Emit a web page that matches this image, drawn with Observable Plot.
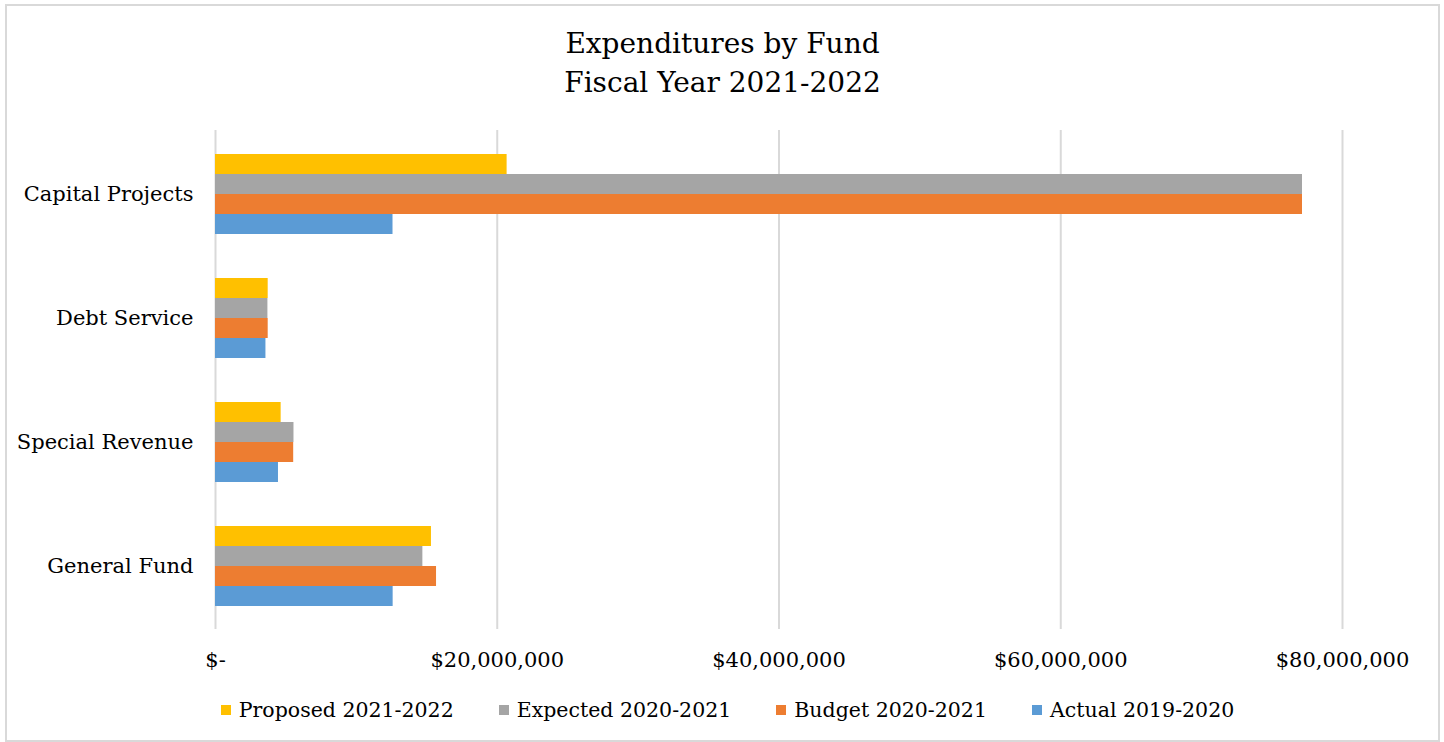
<!DOCTYPE html>
<html>
<head>
<meta charset="utf-8">
<script src="https://cdn.jsdelivr.net/npm/d3@7"></script>
<script src="https://cdn.jsdelivr.net/npm/@observablehq/plot@0.6"></script>
<style>
  html, body { margin: 0; padding: 0; background: #fff; }
  #frame { position: absolute; left: 5px; top: 4px; width: 1431px; height: 734px; border: 2px solid #d9d9d9; background: #fff; overflow: hidden; font-family: "DejaVu Serif", serif; color: #000; }
  #title { position: absolute; left: 0; top: 18px; width: 100%; text-align: center; font-size: 28px; line-height: 39px; }
  #chart { position: absolute; left: 0; top: 0; }
  #legend { position: absolute; left: 0; top: 689px; width: 100%; display: flex; justify-content: center; gap: 45px; font-size: 20.5px; line-height: 30px; padding-left: 10px; box-sizing: border-box; }
  .item { display: flex; align-items: center; gap: 8px; }
  .sw { width: 10px; height: 10px; display: inline-block; }
</style>
</head>
<body>
<div id="frame">
  <div id="title">Expenditures by Fund<br>Fiscal Year 2021-2022</div>
  <div id="chart"></div>
  <div id="legend"></div>
</div>
<script>
const categories = ["Capital Projects", "Debt Service", "Special Revenue", "General Fund"];
const seriesNames = ["Proposed 2021-2022", "Expected 2020-2021", "Budget 2020-2021", "Actual 2019-2020"];
const proposed = [20700000, 3740000, 4660000, 15330000];
const expected = [77160000, 3720000, 5570000, 14720000];
const budget   = [77160000, 3740000, 5550000, 15690000];
const actual   = [12600000, 3580000, 4470000, 12610000];
const xTicks = [0, 20000000, 40000000, 60000000, 80000000];
const xTickLabels = ["$-", "$20,000,000", "$40,000,000", "$60,000,000", "$80,000,000"];
const colors = ["#FFC000", "#A5A5A5", "#ED7D31", "#5B9BD5"];

const seriesValues = [proposed, expected, budget, actual];
const rows = seriesValues.map((vals, s) =>
  categories.map((c, i) => ({category: c, series: seriesNames[s], value: vals[i]}))
);

const bandwidth = 80;
const slot = bandwidth / seriesNames.length;

const plot = Plot.plot({
  width: 1431,
  height: 680,
  marginLeft: 208,
  marginRight: 96,
  marginTop: 124,
  marginBottom: 57,
  style: {fontFamily: "DejaVu Serif, serif", fontSize: "21px", color: "#000", background: "transparent"},
  x: {domain: [0, 80000000], ticks: xTicks, tickFormat: d => xTickLabels[xTicks.indexOf(d)], tickSize: 0, tickPadding: 23, label: null},
  y: {type: "band", domain: categories, paddingInner: 0.3587, paddingOuter: 0.1794, tickSize: 0, tickPadding: 22, label: null},
  marks: [
    Plot.ruleX(xTicks, {stroke: "#d9d9d9", strokeWidth: 2}),
    ...rows.map((data, s) => Plot.barX(data, {
      x: "value", y: "category", fill: colors[s],
      insetTop: s * slot, insetBottom: (seriesNames.length - 1 - s) * slot
    }))
  ]
});
document.getElementById("chart").appendChild(plot);

const legend = document.getElementById("legend");
seriesNames.forEach((name, s) => {
  const item = document.createElement("div");
  item.className = "item";
  const sw = document.createElement("span");
  sw.className = "sw";
  sw.style.background = colors[s];
  const label = document.createElement("span");
  label.textContent = name;
  item.appendChild(sw);
  item.appendChild(label);
  legend.appendChild(item);
});
</script>
</body>
</html>
